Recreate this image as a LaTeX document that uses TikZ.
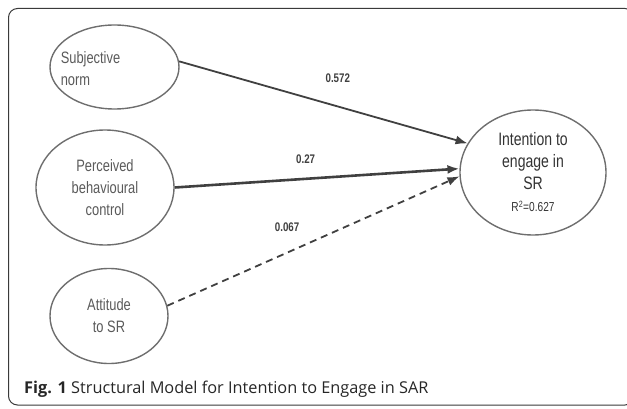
\documentclass[tikz,border=0pt]{standalone}
\usepackage{fontspec}
\setmainfont{Open Sans}
\newfontfamily\narrowsf[FakeStretch=0.78]{Liberation Sans}
\usetikzlibrary{shapes.geometric}
\usetikzlibrary{arrows.meta}
\definecolor{rimgray}{HTML}{6E6E6E}
\definecolor{txtgray}{HTML}{5A5A5A}
\definecolor{linkgray}{HTML}{404040}
\definecolor{framegray}{HTML}{3A3A3A}
\definecolor{capgray}{HTML}{262626}

\begin{document}
\begin{tikzpicture}[x=1pt,y=-1pt,
    blob/.style={draw=rimgray, line width=1.4pt, ellipse, inner sep=0pt, text=txtgray,
      font=\narrowsf\fontsize{16.5}{22}\selectfont, align=center},
    link/.style={draw=linkgray, line width=1.8pt, -{Latex[length=12pt,width=9pt]}},
    coef/.style={font=\narrowsf\bfseries\fontsize{12.5}{14}\selectfont, text=linkgray}]
    \useasboundingbox (0,0) rectangle (627,409);
    \draw[framegray, line width=1pt, rounded corners=9pt] (8.5,8.5) rectangle (634,405);
    % latent constructs
    \node[blob, minimum width=129pt, minimum height=84pt,
      label={[text=txtgray, font=\narrowsf\fontsize{16.5}{22}\selectfont, align=left, xshift=-24pt, yshift=-2pt]center:Subjective\\norm}] (sn) at (114.5,67) {};
    \node[blob, minimum width=138pt, minimum height=115pt] (pbc) at (105,187.5) {Perceived\\behavioural\\control};
    \node[blob, minimum width=118pt, minimum height=95pt] (att) at (109,316) {Attitude\\to SR};
    \node[blob, minimum width=146pt, minimum height=125pt, text=black!80] (int) at (533,172.5)
      {\fontsize{18}{22}\selectfont Intention to\\\fontsize{18}{22}\selectfont engage in\\\fontsize{18}{20}\selectfont SR\\\fontsize{13}{16}\selectfont R\textsuperscript{2}=0.627};
    % paths
    \draw[link] (sn.5) -- node[coef, pos=0.55, above=20pt] {0.572} (int.156);
    \draw[link, line width=2.6pt] (pbc.0) -- node[coef, pos=0.46, above=11pt] {0.27} (int.177);
    \draw[link, dash pattern=on 7pt off 5pt] (att.10) -- node[coef, pos=0.41, above=17pt] {0.067} (int.183);
    % caption
    \node[anchor=base west, inner sep=0pt, text=capgray, font=\fontsize{16.3}{19}\selectfont] (cap) at (24,393)
      {\textbf{Fig. 1} Structural Model for Intention to Engage in SAR};
\end{tikzpicture}
\end{document}
